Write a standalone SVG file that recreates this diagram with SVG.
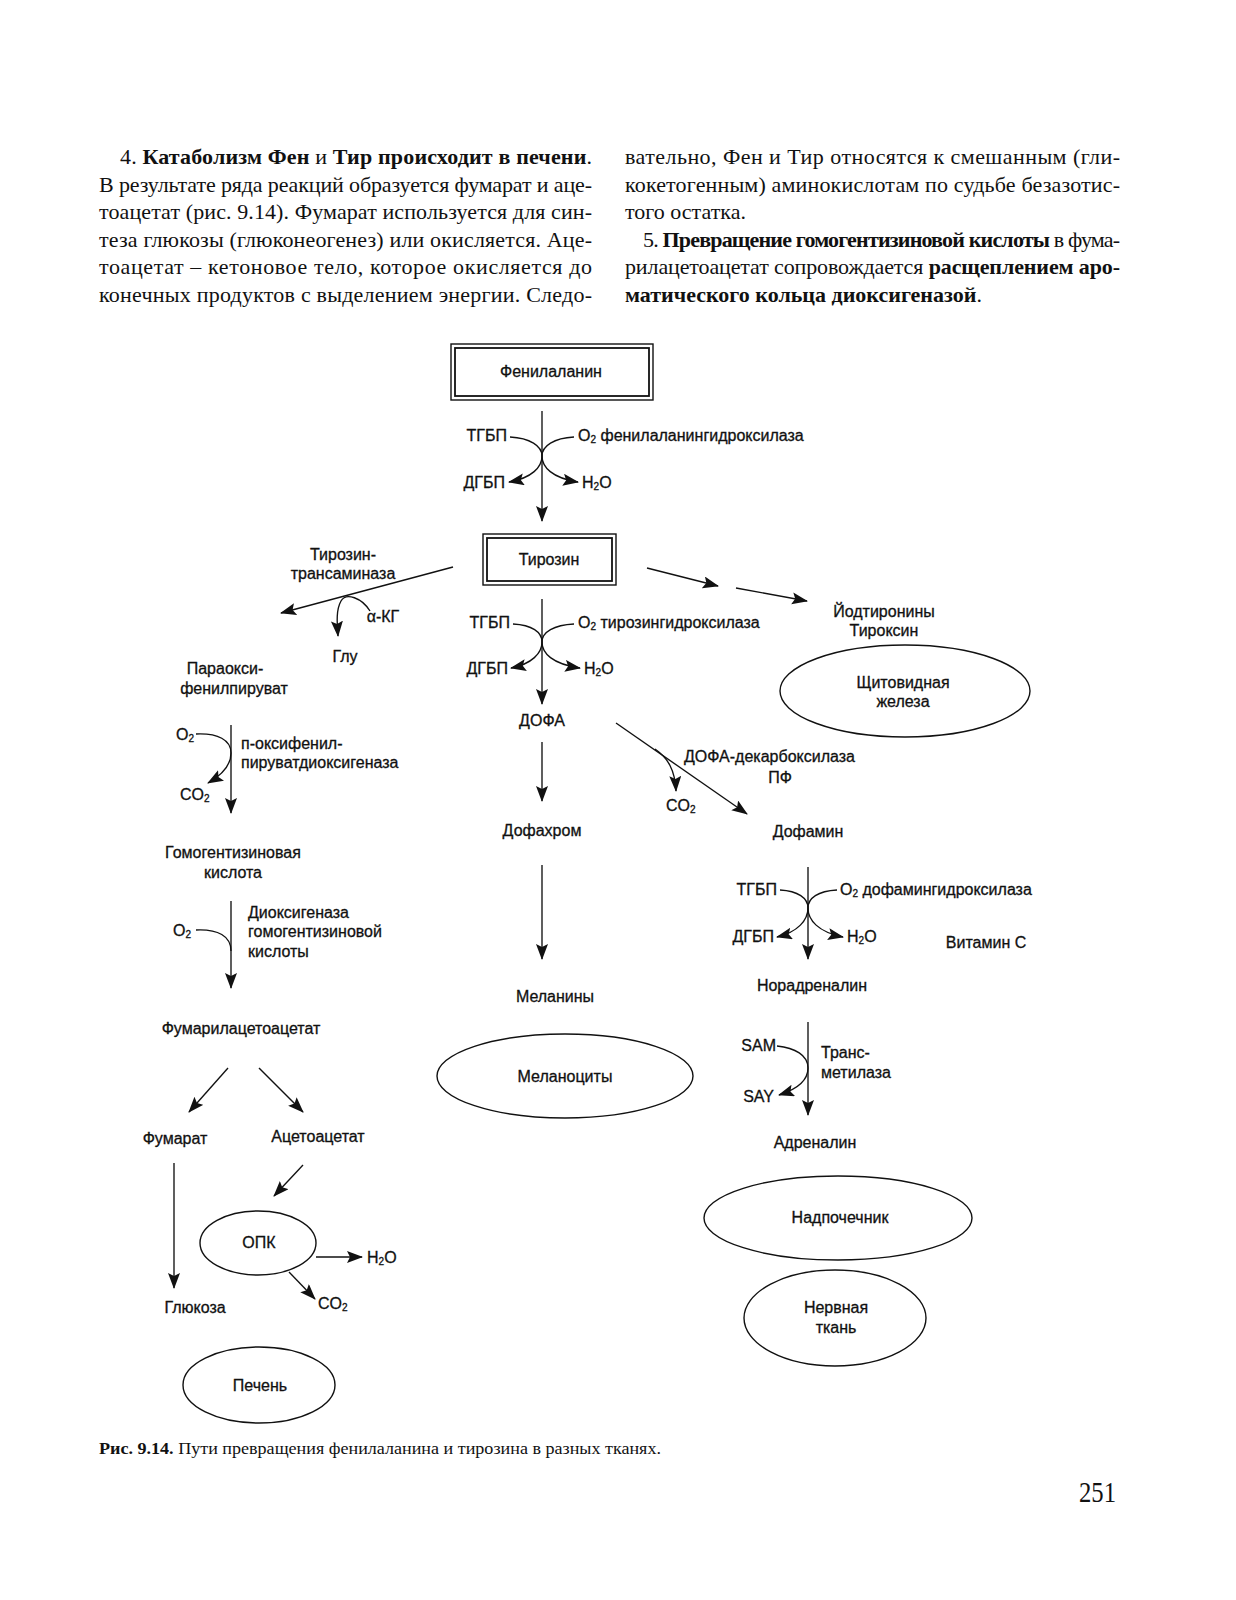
<svg xmlns="http://www.w3.org/2000/svg" width="1236" height="1600" viewBox="0 0 1236 1600">
<style>
.body{font-family:"Liberation Serif","Times New Roman",serif;font-size:22px;fill:#111}
.b{font-weight:bold}
.t{font-family:"Liberation Sans",Arial,sans-serif;font-size:16px;fill:#111;stroke:#111;stroke-width:0.3}
.m{text-anchor:middle}
.e{text-anchor:end}
.sub{font-size:10px}
.ln{fill:none;stroke:#111;stroke-width:1.35}
.arr{marker-end:url(#ah)}
.shape{fill:none;stroke:#111;stroke-width:1.4}
</style>
<defs>
<marker id="ah" markerUnits="userSpaceOnUse" markerWidth="18" markerHeight="14" refX="15" refY="6" orient="auto">
<path d="M0,0 L16,6 L0,12 L3,6 z" fill="#111"/>
</marker>
</defs>
<rect width="1236" height="1600" fill="#fff"/>

<g id="text-block">
<text class="body" x="120" y="164" textLength="472" lengthAdjust="spacing">4. <tspan class="b">Катаболизм Фен</tspan> и <tspan class="b">Тир происходит в печени</tspan>.</text>
<text class="body" x="99" y="191.5" textLength="493" lengthAdjust="spacing">В результате ряда реакций образуется фумарат и аце-</text>
<text class="body" x="99" y="219" textLength="493" lengthAdjust="spacing">тоацетат (рис. 9.14). Фумарат используется для син-</text>
<text class="body" x="99" y="246.5" textLength="493" lengthAdjust="spacing">теза глюкозы (глюконеогенез) или окисляется. Аце-</text>
<text class="body" x="99" y="274" textLength="493" lengthAdjust="spacing">тоацетат – кетоновое тело, которое окисляется до</text>
<text class="body" x="99" y="301.5" textLength="493" lengthAdjust="spacing">конечных продуктов с выделением энергии. Следо-</text>
<text class="body" x="625" y="164" textLength="495" lengthAdjust="spacing">вательно, Фен и Тир относятся к смешанным (гли-</text>
<text class="body" x="625" y="191.5" textLength="495" lengthAdjust="spacing">кокетогенным) аминокислотам по судьбе безазотис-</text>
<text class="body" x="625" y="219">того остатка.</text>
<text class="body" x="643" y="246.5" textLength="477" lengthAdjust="spacing">5. <tspan class="b">Превращение гомогентизиновой кислоты</tspan> в фума-</text>
<text class="body" x="625" y="274" textLength="495" lengthAdjust="spacing">рилацетоацетат сопровождается <tspan class="b">расщеплением аро-</tspan></text>
<text class="body" x="625" y="301.5"><tspan class="b">матического кольца диоксигеназой</tspan>.</text>
</g>

<g id="connectors">
<!-- Phe -> Tyr -->
<path class="ln arr" d="M542,411 L542,521"/>
<path class="ln" d="M510,437 C530,438 542,446 542,456"/>
<path class="ln arr" d="M542,456 C542,467 532,478 509,482"/>
<path class="ln" d="M574,437 C554,438 542,446 542,456"/>
<path class="ln arr" d="M542,456 C542,467 552,478 578,482"/>
<!-- Tyr -> parahydroxyphenylpyruvate -->
<path class="ln arr" d="M453,567 L281,613"/>
<path class="ln arr" d="M370,611 C362,598 346,592 341,601 C336,610 337,622 338,636"/>
<!-- Tyr -> iodothyronines -->
<path class="ln arr" d="M647,568 L718,586"/>
<path class="ln arr" d="M736,588 L807,601"/>
<!-- Tyr -> DOPA -->
<path class="ln arr" d="M542,599 L542,704"/>
<path class="ln" d="M513,624 C532,625 542,632 542,642"/>
<path class="ln arr" d="M542,642 C542,653 532,664 511,668"/>
<path class="ln" d="M574,624 C554,625 542,632 542,642"/>
<path class="ln arr" d="M542,642 C542,653 552,664 580,668"/>
<!-- left branch -->
<path class="ln arr" d="M231,725 L231,813"/>
<path class="ln" d="M196,734 C218,733 231,740 231,753"/>
<path class="ln arr" d="M231,753 C231,766 222,775 208,783"/>
<path class="ln arr" d="M231,901 L231,988"/>
<path class="ln" d="M196,930 C218,929 231,936 231,951"/>
<path class="ln arr" d="M228,1068 L189,1112"/>
<path class="ln arr" d="M259,1068 L303,1112"/>
<path class="ln arr" d="M174,1163 L174,1288"/>
<path class="ln arr" d="M303,1165 L274,1196"/>
<path class="ln arr" d="M316,1257 L362,1257"/>
<path class="ln arr" d="M289,1272 L315,1299"/>
<!-- DOPA -> melanins -->
<path class="ln arr" d="M542,742 L542,801"/>
<path class="ln arr" d="M542,865 L542,959"/>
<!-- DOPA -> dopamine -->
<path class="ln arr" d="M616,723 L747,814"/>
<path class="ln arr" d="M655,749 C668,758 675,770 676,791"/>
<!-- dopamine -> noradrenaline -->
<path class="ln arr" d="M808,867 L808,959"/>
<path class="ln" d="M780,890 C798,891 808,898 808,908"/>
<path class="ln arr" d="M808,908 C808,920 798,932 777,937"/>
<path class="ln" d="M837,890 C818,891 808,898 808,908"/>
<path class="ln arr" d="M808,908 C808,920 818,932 843,937"/>
<!-- noradrenaline -> adrenaline -->
<path class="ln arr" d="M808,1022 L808,1115"/>
<path class="ln" d="M777,1046 C795,1048 808,1055 808,1068"/>
<path class="ln arr" d="M808,1068 C808,1080 798,1089 779,1095"/>
</g>

<g id="n-phe">
<rect class="shape" x="451" y="344" width="202" height="56"/>
<rect x="455" y="348" width="194" height="48" fill="none" stroke="#111" stroke-width="1.8"/>
<text class="t m" x="551" y="377">Фенилаланин</text>
</g>
<g id="n-r1">
<text class="t e" x="507" y="441">ТГБП</text>
<text class="t" x="578" y="441">O<tspan class="sub" dy="2">2</tspan><tspan dy="-2"> фенилаланингидроксилаза</tspan></text>
<text class="t e" x="505" y="488">ДГБП</text>
<text class="t" x="582" y="488">H<tspan class="sub" dy="2">2</tspan><tspan dy="-2">O</tspan></text>
</g>
<g id="n-tyr">
<rect class="shape" x="483" y="534" width="133" height="51"/>
<rect x="487" y="538" width="125" height="43" fill="none" stroke="#111" stroke-width="1.8"/>
<text class="t m" x="549" y="565">Тирозин</text>
</g>
<g id="n-transaminase">
<text class="t m" x="343" y="560">Тирозин-</text>
<text class="t m" x="343" y="579">трансаминаза</text>
<text class="t m" x="383" y="622">α-КГ</text>
<text class="t m" x="345" y="662">Глу</text>
</g>
<g id="n-iodo">
<text class="t m" x="884" y="617">Йодтиронины</text>
<text class="t m" x="884" y="636">Тироксин</text>
</g>
<g id="n-thyroid">
<ellipse class="shape" cx="905" cy="691" rx="125" ry="46"/>
<text class="t m" x="903" y="688">Щитовидная</text>
<text class="t m" x="903" y="707">железа</text>
</g>
<g id="n-r2">
<text class="t e" x="510" y="628">ТГБП</text>
<text class="t" x="578" y="628">O<tspan class="sub" dy="2">2</tspan><tspan dy="-2"> тирозингидроксилаза</tspan></text>
<text class="t e" x="508" y="674">ДГБП</text>
<text class="t" x="584" y="674">H<tspan class="sub" dy="2">2</tspan><tspan dy="-2">O</tspan></text>
</g>
<g id="n-dopa"><text class="t m" x="542" y="726">ДОФА</text></g>
<g id="n-hpp">
<text class="t m" x="225" y="674">Параокси-</text>
<text class="t m" x="234" y="694">фенилпируват</text>
</g>
<g id="n-r3">
<text class="t" x="176" y="740">O<tspan class="sub" dy="2">2</tspan></text>
<text class="t" x="241" y="749">п-оксифенил-</text>
<text class="t" x="241" y="768">пируватдиоксигеназа</text>
<text class="t" x="180" y="800">CO<tspan class="sub" dy="2">2</tspan></text>
</g>
<g id="n-hga">
<text class="t m" x="233" y="858">Гомогентизиновая</text>
<text class="t m" x="233" y="878">кислота</text>
</g>
<g id="n-r4">
<text class="t" x="173" y="936">O<tspan class="sub" dy="2">2</tspan></text>
<text class="t" x="248" y="918">Диоксигеназа</text>
<text class="t" x="248" y="937">гомогентизиновой</text>
<text class="t" x="248" y="957">кислоты</text>
</g>
<g id="n-faa"><text class="t m" x="241" y="1034">Фумарилацетоацетат</text></g>
<g id="n-fumarate"><text class="t m" x="175" y="1144">Фумарат</text></g>
<g id="n-acetoacetate"><text class="t m" x="318" y="1142">Ацетоацетат</text></g>
<g id="n-tca">
<ellipse class="shape" cx="258" cy="1243" rx="58" ry="32"/>
<text class="t m" x="259" y="1248">ОПК</text>
</g>
<g id="n-h2o-tca"><text class="t" x="367" y="1263">H<tspan class="sub" dy="2">2</tspan><tspan dy="-2">O</tspan></text></g>
<g id="n-co2-tca"><text class="t" x="318" y="1309">CO<tspan class="sub" dy="2">2</tspan></text></g>
<g id="n-glucose"><text class="t m" x="195" y="1313">Глюкоза</text></g>
<g id="n-liver">
<ellipse class="shape" cx="259" cy="1385" rx="76" ry="38"/>
<text class="t m" x="260" y="1391">Печень</text>
</g>
<g id="n-dopachrome"><text class="t m" x="542" y="836">Дофахром</text></g>
<g id="n-melanins"><text class="t m" x="555" y="1002">Меланины</text></g>
<g id="n-melanocytes">
<ellipse class="shape" cx="565" cy="1076" rx="128" ry="42"/>
<text class="t m" x="565" y="1082">Меланоциты</text>
</g>
<g id="n-ddc">
<text class="t" x="684" y="762">ДОФА-декарбоксилаза</text>
<text class="t m" x="780" y="783">ПФ</text>
<text class="t" x="666" y="811">CO<tspan class="sub" dy="2">2</tspan></text>
</g>
<g id="n-dopamine"><text class="t m" x="808" y="837">Дофамин</text></g>
<g id="n-r5">
<text class="t e" x="777" y="895">ТГБП</text>
<text class="t" x="840" y="895">O<tspan class="sub" dy="2">2</tspan><tspan dy="-2"> дофамингидроксилаза</tspan></text>
<text class="t e" x="774" y="942">ДГБП</text>
<text class="t" x="847" y="942">H<tspan class="sub" dy="2">2</tspan><tspan dy="-2">O</tspan></text>
</g>
<g id="n-vitc"><text class="t m" x="986" y="948">Витамин С</text></g>
<g id="n-noradrenaline"><text class="t m" x="812" y="991">Норадреналин</text></g>
<g id="n-r6">
<text class="t e" x="776" y="1051">SAM</text>
<text class="t e" x="774" y="1102">SAY</text>
<text class="t" x="821" y="1058">Транс-</text>
<text class="t" x="821" y="1078">метилаза</text>
</g>
<g id="n-adrenaline"><text class="t m" x="815" y="1148">Адреналин</text></g>
<g id="n-adrenal">
<ellipse class="shape" cx="838" cy="1218" rx="134" ry="42"/>
<text class="t m" x="840" y="1223">Надпочечник</text>
</g>
<g id="n-nerve">
<ellipse class="shape" cx="835" cy="1318" rx="91" ry="48"/>
<text class="t m" x="836" y="1313">Нервная</text>
<text class="t m" x="836" y="1333">ткань</text>
</g>

<g id="caption">
<text class="body" x="99" y="1454" style="font-size:17px" textLength="562" lengthAdjust="spacingAndGlyphs"><tspan class="b">Рис. 9.14.</tspan> Пути превращения фенилаланина и тирозина в разных тканях.</text>
<text class="body" x="1079" y="1502" style="font-size:29px" textLength="37" lengthAdjust="spacingAndGlyphs">251</text>
</g>
</svg>
